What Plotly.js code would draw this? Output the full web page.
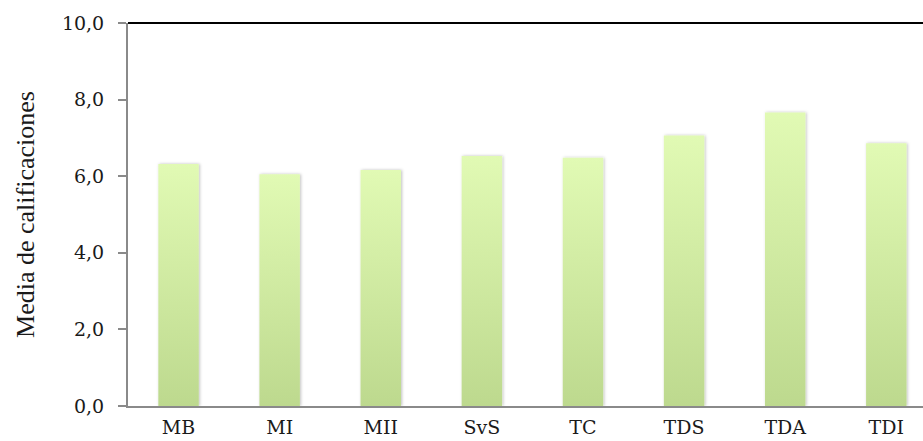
<!DOCTYPE html>
<html>
<head>
<meta charset="utf-8">
<script src="https://cdn.plot.ly/plotly-3.0.1.min.js"></script>
<style>html,body{margin:0;padding:0;background:#fff;}#chart{width:923px;height:441px;}</style>
</head>
<body>
<div id="chart"></div>
<script>
const categories = ["MB", "MI", "MII", "SvS", "TC", "TDS", "TDA", "TDI"];
const values = [6.32, 6.05, 6.16, 6.53, 6.48, 7.06, 7.66, 6.86];
const yTicks = [0, 2, 4, 6, 8, 10];

const trace = {
  type: "bar",
  x: categories,
  y: values,
  width: 0.4,
  marker: { color: "#d2eca6", line: { width: 0 } },
  hoverinfo: "none"
};

const layout = {
  width: 923,
  height: 441,
  margin: { l: 128, r: 0, t: 23, b: 35 },
  paper_bgcolor: "#ffffff",
  plot_bgcolor: "#ffffff",
  separators: ",.",
  showlegend: false,
  font: { family: "DejaVu Serif", size: 19, color: "#1a1a1a" },
  xaxis: {
    type: "category",
    range: [-0.5, 7.363],
    showline: true,
    linecolor: "#8a8a8a",
    linewidth: 2,
    ticks: "",
    showgrid: false,
    zeroline: false,
    ticklabelstandoff: 3,
    tickfont: { family: "DejaVu Serif", size: 19, color: "#1a1a1a" }
  },
  yaxis: {
    range: [0, 10],
    tickvals: yTicks,
    tickformat: ".1f",
    showline: true,
    linecolor: "#8a8a8a",
    linewidth: 2,
    ticks: "outside",
    ticklen: 8,
    tickwidth: 2,
    tickcolor: "#8a8a8a",
    showgrid: false,
    zeroline: false,
    ticklabelstandoff: 10,
    tickfont: { family: "DejaVu Serif", size: 19, color: "#1a1a1a" },
    title: {
      text: "Media de calificaciones",
      font: { family: "Liberation Serif", size: 26, color: "#1a1a1a" },
      standoff: 20
    }
  },
  shapes: [{
    type: "line", xref: "paper", yref: "paper",
    x0: 0, x1: 1, y0: 1, y1: 1,
    line: { color: "#000000", width: 2 }
  }]
};

Plotly.newPlot("chart", [trace], layout, { staticPlot: true, displayModeBar: false }).then(function (gd) {
  const svg = gd.querySelector("svg.main-svg");
  const ns = "http://www.w3.org/2000/svg";
  let defs = svg.querySelector("defs");
  if (!defs) { defs = document.createElementNS(ns, "defs"); svg.insertBefore(defs, svg.firstChild); }
  const grad = document.createElementNS(ns, "linearGradient");
  grad.setAttribute("id", "barGrad");
  grad.setAttribute("x1", "0"); grad.setAttribute("y1", "0");
  grad.setAttribute("x2", "0"); grad.setAttribute("y2", "1");
  [["0", "#e1fab4"], ["1", "#bdd98e"]].forEach(function (s) {
    const st = document.createElementNS(ns, "stop");
    st.setAttribute("offset", s[0]);
    st.setAttribute("stop-color", s[1]);
    grad.appendChild(st);
  });
  defs.appendChild(grad);
  const filt = document.createElementNS(ns, "filter");
  filt.setAttribute("id", "barShadow");
  filt.setAttribute("x", "-20%"); filt.setAttribute("y", "-5%");
  filt.setAttribute("width", "140%"); filt.setAttribute("height", "110%");
  const ds = document.createElementNS(ns, "feDropShadow");
  ds.setAttribute("dx", "1"); ds.setAttribute("dy", "0");
  ds.setAttribute("stdDeviation", "1.5");
  ds.setAttribute("flood-color", "#000");
  ds.setAttribute("flood-opacity", "0.25");
  filt.appendChild(ds);
  defs.appendChild(filt);
  gd.querySelectorAll(".bars .point path").forEach(function (p) {
    p.style.fill = "url(#barGrad)";
    p.setAttribute("filter", "url(#barShadow)");
  });
});
</script>
</body>
</html>
